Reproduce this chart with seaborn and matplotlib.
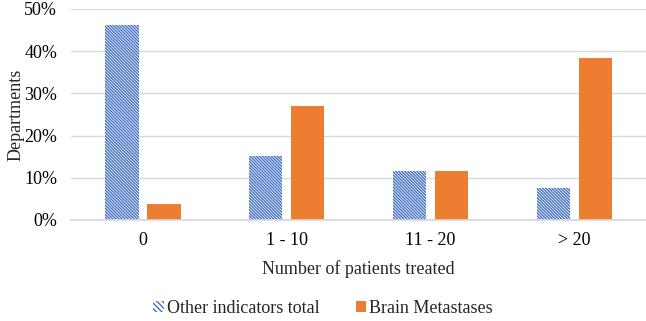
import pandas as pd
import matplotlib.pyplot as plt
import seaborn as sns
from matplotlib.ticker import PercentFormatter

categories = ["0", "1 - 10", "11 - 20", "> 20"]
other_total = [46.2, 15.2, 11.6, 7.6]
brain_mets = [3.8, 26.9, 11.5, 38.4]
series = ["Other indicators total", "Brain Metastases"]

df = pd.DataFrame({
    "group": categories * 2,
    "series": [series[0]] * 4 + [series[1]] * 4,
    "value": other_total + brain_mets,
})

sns.set_theme(style="white")
plt.rcParams['font.family'] = ['Liberation Serif', 'DejaVu Serif']
plt.rcParams['hatch.linewidth'] = 1.0

HATCH = "\\" * 11
fs = 13

fig = plt.figure(figsize=(6.46, 3.21), dpi=100)
ax = fig.add_axes([0.11, 0.315, 0.89, 0.657])

sns.barplot(data=df, x="group", y="value", hue="series", order=categories,
            hue_order=series, palette=["white", "#ED7D31"], saturation=1,
            width=0.585, gap=0.21, ax=ax, legend=False)

# hatched blue for the first series
for bar in ax.containers[0]:
    bar.set_hatch(HATCH)
    bar.set_edgecolor("#4472C4")
    bar.set_linewidth(0)
for bar in ax.containers[1]:
    bar.set_edgecolor("#ED7D31")
    bar.set_linewidth(0)

ax.set_ylim(0, 50)
ax.set_yticks([0, 10, 20, 30, 40, 50])
ax.yaxis.set_major_formatter(PercentFormatter(decimals=0))
ax.grid(axis="y", color="#d9d9d9", linewidth=1)
ax.set_axisbelow(True)
for s in ["top", "right", "left"]:
    ax.spines[s].set_visible(False)
ax.spines["bottom"].set_color("#d9d9d9")
ax.tick_params(axis="both", labelsize=fs, length=0, colors="black")
ax.tick_params(axis="y", pad=10)
ax.tick_params(axis="x", pad=9)
ax.set_xlabel("Number of patients treated", fontsize=fs, labelpad=8)
ax.set_ylabel("Departments", fontsize=fs, labelpad=0)

handles = [
    plt.Rectangle((0, 0), 1, 1, facecolor="white", edgecolor="#4472C4",
                  hatch="\\\\\\\\\\\\", linewidth=0),
    plt.Rectangle((0, 0), 1, 1, facecolor="#ED7D31", linewidth=0),
]
fig.legend(handles, series, loc="center", bbox_to_anchor=(0.5, 0.04),
           ncol=2, frameon=False, fontsize=fs, handlelength=0.6,
           handleheight=0.6, handletextpad=0.15, columnspacing=2.0)

fig.savefig("out.png", dpi=100)
